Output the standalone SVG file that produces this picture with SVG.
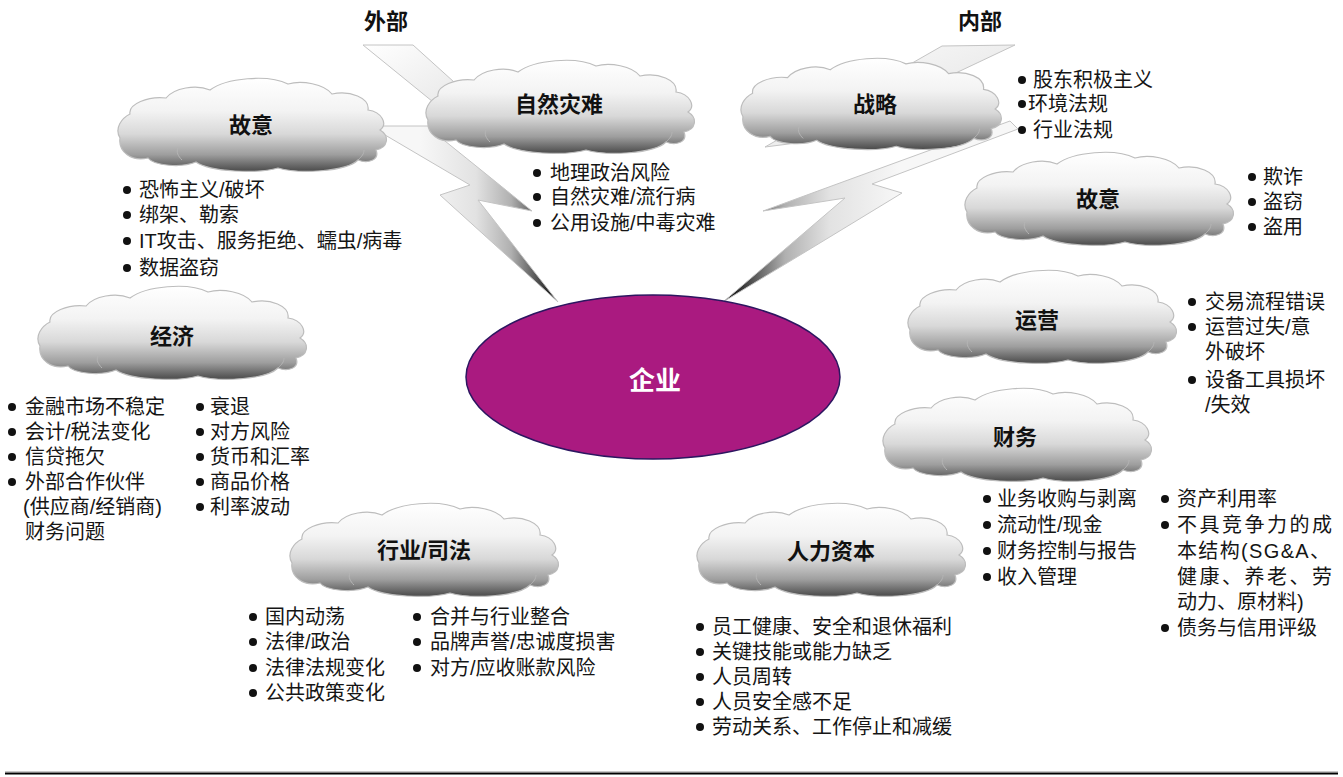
<svg xmlns="http://www.w3.org/2000/svg" xmlns:xlink="http://www.w3.org/1999/xlink" width="1343" height="777" viewBox="0 0 1343 777">
  <defs>
    <style>
      .lbl { font-family: "Liberation Sans", "Noto Sans CJK SC", sans-serif; font-size: 22px; font-weight: bold; fill: #111; text-anchor: middle; }
      .txt { font-family: "Liberation Sans", "Noto Sans CJK SC", sans-serif; font-size: 20px; fill: #151515; }
      .dot { fill: #111; }
      .cloud-edge { fill: url(#cloudFill); stroke: #bdbdbd; stroke-width: 1.2; }
      .seam { fill: none; stroke: #b5b5b5; stroke-width: 1; }
      .bolt { stroke: #c4c4c4; stroke-width: 1; stroke-linejoin: miter; }
      .band { fill: url(#bandFill); stroke: #c4c4c4; stroke-width: 1; }
    </style>
    <linearGradient id="cloudFill" x1="0" y1="0" x2="0" y2="1">
      <stop offset="0" stop-color="#ffffff"/>
      <stop offset="0.35" stop-color="#f3f3f3"/>
      <stop offset="0.6" stop-color="#d8d8d8"/>
      <stop offset="0.82" stop-color="#9e9e9e"/>
      <stop offset="1" stop-color="#4a4a4a"/>
    </linearGradient>
    <linearGradient id="boltL" gradientUnits="userSpaceOnUse" x1="420" y1="0" x2="560" y2="0">
      <stop offset="0" stop-color="#f7f7f7"/>
      <stop offset="0.4" stop-color="#e2e2e2"/>
      <stop offset="0.65" stop-color="#b0b0b0"/>
      <stop offset="0.82" stop-color="#5a5a5a"/>
      <stop offset="1" stop-color="#000000"/>
    </linearGradient>
    <linearGradient id="boltR" gradientUnits="userSpaceOnUse" x1="900" y1="0" x2="723" y2="0">
      <stop offset="0" stop-color="#f7f7f7"/>
      <stop offset="0.4" stop-color="#e2e2e2"/>
      <stop offset="0.65" stop-color="#b0b0b0"/>
      <stop offset="0.82" stop-color="#5a5a5a"/>
      <stop offset="1" stop-color="#000000"/>
    </linearGradient>
    <linearGradient id="bandFill" x1="0" y1="0" x2="1" y2="1">
      <stop offset="0" stop-color="#ffffff"/>
      <stop offset="1" stop-color="#dddddd"/>
    </linearGradient>
    <!-- shared cloud outline, about 268 x 92 -->
    <g id="cloud">
      <path class="cloud-edge" d="M 2,60 C -4,50 4,40 12,36 C 10,26 30,18 48,20 C 56,10 78,6 92,12 C 108,0 150,-4 170,6 C 184,2 206,6 214,16 C 232,12 252,20 250,32 C 264,34 270,46 262,52 C 272,58 270,70 258,72 C 262,82 250,86 240,82 C 228,94 180,96 160,90 C 140,96 92,94 78,84 C 64,90 36,88 30,80 C 14,84 0,74 2,60 Z"/>
      <path class="seam" d="M 64,82 C 60,78 58,74 60,70"/>
      <path class="seam" d="M 240,82 C 244,78 246,76 246,72"/>
    </g>
  </defs>

  <rect width="1343" height="777" fill="#ffffff"/>

  <!-- lightning connectors -->
  <g id="connectors">
    <polygon class="band" points="363,45 413,45 505,128 470,132"/>
    <polygon class="bolt" fill="url(#boltL)" points="380,126 432,126 440,137 532,211 478,200 558,302 440,195 470,185 380,132"/>
    <polygon class="band" points="942,46 1015,45 812,141 765,147"/>
    <polygon class="bolt" fill="url(#boltR)" points="1010,121 1018,129 872,184 902,193 723,302 845,198 763,211"/>
  </g>

  <!-- headings -->
  <g id="headings">
    <text class="lbl" x="386" y="29">外部</text>
    <text class="lbl" x="980" y="29">内部</text>
  </g>

  <!-- central node -->
  <g id="enterprise">
    <ellipse cx="653" cy="377" rx="187" ry="82" fill="#aa1a80" stroke="#2c1660" stroke-width="1.5"/>
    <text class="lbl" x="655" y="390" style="fill:#ffffff;font-size:26px">企业</text>
  </g>

  <!-- external: deliberate -->
  <g id="ext-deliberate">
    <use href="#cloud" xlink:href="#cloud" transform="translate(118,78)"/>
    <text class="lbl" x="251" y="133">故意</text>
    <circle class="dot" cx="127" cy="190" r="4"/>
    <circle class="dot" cx="127" cy="215" r="4"/>
    <circle class="dot" cx="127" cy="241" r="4"/>
    <circle class="dot" cx="127" cy="268" r="4"/>
    <text class="txt" x="139" y="197">恐怖主义/破坏</text>
    <text class="txt" x="139" y="222">绑架、勒索</text>
    <text class="txt" x="139" y="248">IT攻击、服务拒绝、蠕虫/病毒</text>
    <text class="txt" x="139" y="275">数据盗窃</text>
  </g>

  <!-- external: natural disasters -->
  <g id="ext-disaster">
    <use href="#cloud" xlink:href="#cloud" transform="translate(426,60)"/>
    <text class="lbl" x="559" y="112">自然灾难</text>
    <circle class="dot" cx="537" cy="173" r="4"/>
    <circle class="dot" cx="537" cy="197" r="4"/>
    <circle class="dot" cx="537" cy="223" r="4"/>
    <text class="txt" x="550" y="180">地理政治风险</text>
    <text class="txt" x="550" y="204">自然灾难/流行病</text>
    <text class="txt" x="550" y="230">公用设施/中毒灾难</text>
  </g>

  <!-- internal: strategy -->
  <g id="int-strategy">
    <use href="#cloud" xlink:href="#cloud" transform="translate(741,58) scale(0.97,0.98)"/>
    <text class="lbl" x="875" y="112">战略</text>
    <circle class="dot" cx="1022" cy="80" r="4"/>
    <circle class="dot" cx="1022" cy="104" r="4"/>
    <circle class="dot" cx="1022" cy="130" r="4"/>
    <text class="txt" x="1033" y="87">股东积极主义</text>
    <text class="txt" x="1028" y="111">环境法规</text>
    <text class="txt" x="1033" y="137">行业法规</text>
  </g>

  <!-- internal: deliberate -->
  <g id="int-deliberate">
    <use href="#cloud" xlink:href="#cloud" transform="translate(965,152)"/>
    <text class="lbl" x="1098" y="207">故意</text>
    <circle class="dot" cx="1252" cy="177" r="4"/>
    <circle class="dot" cx="1252" cy="202" r="4"/>
    <circle class="dot" cx="1252" cy="227" r="4"/>
    <text class="txt" x="1263" y="184">欺诈</text>
    <text class="txt" x="1263" y="209">盗窃</text>
    <text class="txt" x="1263" y="234">盗用</text>
  </g>

  <!-- external: economy -->
  <g id="ext-economy">
    <use href="#cloud" xlink:href="#cloud" transform="translate(38,286)"/>
    <text class="lbl" x="172" y="344">经济</text>
    <circle class="dot" cx="12" cy="407" r="4"/>
    <circle class="dot" cx="12" cy="432" r="4"/>
    <circle class="dot" cx="12" cy="457" r="4"/>
    <circle class="dot" cx="12" cy="482" r="4"/>
    <text class="txt" x="25" y="414">金融市场不稳定</text>
    <text class="txt" x="25" y="439">会计/税法变化</text>
    <text class="txt" x="25" y="464">信贷拖欠</text>
    <text class="txt" x="25" y="489">外部合作伙伴</text>
    <text class="txt" x="23" y="514">(供应商/经销商)</text>
    <text class="txt" x="25" y="539">财务问题</text>
    <circle class="dot" cx="200" cy="407" r="4"/>
    <circle class="dot" cx="200" cy="432" r="4"/>
    <circle class="dot" cx="200" cy="457" r="4"/>
    <circle class="dot" cx="200" cy="482" r="4"/>
    <circle class="dot" cx="200" cy="507" r="4"/>
    <text class="txt" x="210" y="414">衰退</text>
    <text class="txt" x="210" y="439">对方风险</text>
    <text class="txt" x="210" y="464">货币和汇率</text>
    <text class="txt" x="210" y="489">商品价格</text>
    <text class="txt" x="210" y="514">利率波动</text>
  </g>

  <!-- internal: operations -->
  <g id="int-operations">
    <use href="#cloud" xlink:href="#cloud" transform="translate(908,270)"/>
    <text class="lbl" x="1037" y="328">运营</text>
    <circle class="dot" cx="1192" cy="302" r="4"/>
    <circle class="dot" cx="1192" cy="327" r="4"/>
    <circle class="dot" cx="1192" cy="380" r="4"/>
    <text class="txt" x="1205" y="309">交易流程错误</text>
    <text class="txt" x="1205" y="334">运营过失/意</text>
    <text class="txt" x="1205" y="359">外破坏</text>
    <text class="txt" x="1205" y="387">设备工具损坏</text>
    <text class="txt" x="1205" y="412">/失效</text>
  </g>

  <!-- internal: finance -->
  <g id="int-finance">
    <use href="#cloud" xlink:href="#cloud" transform="translate(883,388)"/>
    <text class="lbl" x="1015" y="445">财务</text>
    <circle class="dot" cx="987" cy="499" r="4"/>
    <circle class="dot" cx="987" cy="525" r="4"/>
    <circle class="dot" cx="987" cy="551" r="4"/>
    <circle class="dot" cx="987" cy="577" r="4"/>
    <text class="txt" x="997" y="506">业务收购与剥离</text>
    <text class="txt" x="997" y="532">流动性/现金</text>
    <text class="txt" x="997" y="558">财务控制与报告</text>
    <text class="txt" x="997" y="584">收入管理</text>
    <circle class="dot" cx="1165" cy="499" r="4"/>
    <circle class="dot" cx="1165" cy="525" r="4"/>
    <circle class="dot" cx="1165" cy="628" r="4"/>
    <text class="txt" x="1177" y="506">资产利用率</text>
    <text class="txt" x="1177" y="532" textLength="155" lengthAdjust="spacing">不具竞争力的成</text>
    <text class="txt" x="1177" y="558" textLength="153" lengthAdjust="spacing">本结构(SG&amp;A、</text>
    <text class="txt" x="1177" y="584" textLength="155" lengthAdjust="spacing">健康、养老、劳</text>
    <text class="txt" x="1177" y="609">动力、原材料)</text>
    <text class="txt" x="1177" y="635">债务与信用评级</text>
  </g>

  <!-- internal: human capital -->
  <g id="int-human">
    <use href="#cloud" xlink:href="#cloud" transform="translate(697,503)"/>
    <text class="lbl" x="831" y="559">人力资本</text>
    <circle class="dot" cx="700" cy="627" r="4"/>
    <circle class="dot" cx="700" cy="652" r="4"/>
    <circle class="dot" cx="700" cy="677" r="4"/>
    <circle class="dot" cx="700" cy="702" r="4"/>
    <circle class="dot" cx="700" cy="727" r="4"/>
    <text class="txt" x="712" y="634">员工健康、安全和退休福利</text>
    <text class="txt" x="712" y="659">关键技能或能力缺乏</text>
    <text class="txt" x="712" y="684">人员周转</text>
    <text class="txt" x="712" y="709">人员安全感不足</text>
    <text class="txt" x="712" y="734">劳动关系、工作停止和减缓</text>
  </g>

  <!-- external: industry / jurisdiction -->
  <g id="ext-industry">
    <use href="#cloud" xlink:href="#cloud" transform="translate(290,503)"/>
    <text class="lbl" x="424" y="558">行业/司法</text>
    <circle class="dot" cx="253" cy="617" r="4"/>
    <circle class="dot" cx="253" cy="642" r="4"/>
    <circle class="dot" cx="253" cy="668" r="4"/>
    <circle class="dot" cx="253" cy="693" r="4"/>
    <text class="txt" x="265" y="624">国内动荡</text>
    <text class="txt" x="265" y="649">法律/政治</text>
    <text class="txt" x="265" y="675">法律法规变化</text>
    <text class="txt" x="265" y="700">公共政策变化</text>
    <circle class="dot" cx="417" cy="617" r="4"/>
    <circle class="dot" cx="417" cy="642" r="4"/>
    <circle class="dot" cx="417" cy="668" r="4"/>
    <text class="txt" x="430" y="624">合并与行业整合</text>
    <text class="txt" x="430" y="649">品牌声誉/忠诚度损害</text>
    <text class="txt" x="430" y="675">对方/应收账款风险</text>
  </g>

  <!-- footer rule -->
  <g id="footer-rule">
    <line x1="5" y1="771.5" x2="1338" y2="771.5" stroke="#c8c8c8" stroke-width="1"/>
    <line x1="5" y1="773.5" x2="1338" y2="773.5" stroke="#000000" stroke-width="2"/>
  </g>
</svg>
